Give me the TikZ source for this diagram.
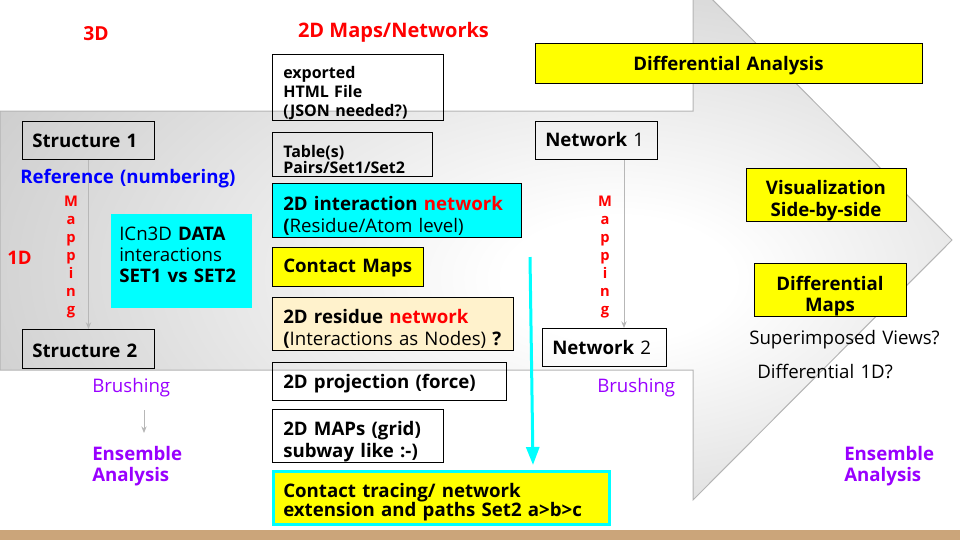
\documentclass[tikz,border=0pt]{standalone}
\usepackage{fontspec}
\setmainfont{Open Sans}
\usetikzlibrary{arrows.meta}
\definecolor{myred}{HTML}{FF0000}
\definecolor{myblue}{HTML}{0000FF}
\definecolor{mypurple}{HTML}{9900FF}
\definecolor{mycyan}{HTML}{00FFFF}
\definecolor{myyellow}{HTML}{FFFF00}
\definecolor{mycream}{HTML}{FFF2CC}
\definecolor{mytan}{HTML}{CBA57A}
\definecolor{arrline}{HTML}{B4B4B4}
\definecolor{garrow}{HTML}{B7B7B7}
\pgfdeclareradialshading{arrshade}{\pgfpoint{8bp}{-4bp}}{color(0bp)=(white); color(6bp)=(white); color(46bp)=(gray!55); color(100bp)=(gray!55)}
\begin{document}
\begin{tikzpicture}[x=0.75pt,y=-0.75pt,
  box/.style={draw=black,line width=0.75pt,inner sep=0pt,anchor=north west},
  tx/.style={inner sep=0pt,anchor=base west,align=left,text width=#1},
  tx/.default=250pt,
  ctx/.style={inner sep=0pt,anchor=base,align=center,text width=#1},
  f14/.style={font=\fontsize{14}{16.5}\selectfont},
  f12/.style={font=\fontsize{12}{14.5}\selectfont},
  f11/.style={font=\fontsize{11}{13.5}\selectfont\bfseries},
  gline/.style={draw=garrow,line width=0.75pt,-{Stealth[length=5pt,width=4pt]}},
]
\useasboundingbox (0,0) rectangle (960,540);
\clip (0,0) rectangle (960,540);
% big arrow
\shade[shading=arrshade,draw=arrline,line width=0.75pt]
  (0,111) -- (693,111) -- (693,-20) -- (952,240) -- (693,500) -- (693,370) -- (0,370) -- cycle;
% bottom bar
\fill[mytan] (0,530) rectangle (960,540);

% titles
\node[inner sep=0pt,anchor=base,font=\fontsize{14.5}{16}\selectfont,text=myred] (t3d) at (96,40.7) {\textbf{3D}};
\node[inner sep=0pt,anchor=base,font=\fontsize{15}{16}\selectfont,text=myred] (t2d) at (393.5,37.7) {\textbf{2D Maps/Networks}};

% middle column boxes
\node[box,minimum width=128.25pt,minimum height=49.5pt] (exp) at (272,54) {};
\node[tx,f12] (expt) at (283,78.3) {\textbf{exported}\\\textbf{HTML File}\\\textbf{(JSON needed?)}};
\node[box,minimum width=120pt,minimum height=33pt] (tbl) at (272,132) {};
\node[tx,font=\fontsize{12}{12.5}\selectfont] (tblt) at (283,157.3) {\textbf{Table(s)}\\\textbf{Pairs/Set1/Set2}};
\node[box,fill=mycyan,minimum width=186.75pt,minimum height=40.5pt] (inter) at (272,183) {};
\node[tx,f14] (intert) at (283,210) {\textbf{2D interaction \textcolor{myred}{network}}\\\textbf{(}Residue/Atom level)};
\node[box,fill=myyellow,minimum width=113.25pt,minimum height=29.25pt] (cmap) at (272,247) {};
\node[tx,f14] (cmapt) at (283,272.3) {\textbf{Contact Maps}};
\node[box,fill=mycream,minimum width=180.75pt,minimum height=39.75pt] (resid) at (272,297) {};
\node[tx,f14] (residt) at (283,323) {\textbf{2D residue \textcolor{myred}{network}}\\\textbf{(}Interactions as Nodes) \textbf{?}};
\node[box,minimum width=175.5pt,minimum height=28.5pt] (proj) at (272,362) {};
\node[tx,f14] (projt) at (283,388.3) {\textbf{2D projection (force)}};
\node[box,minimum width=128.25pt,minimum height=39.75pt] (maps) at (272,409) {};
\node[tx,f14] (mapst) at (283,435) {\textbf{2D MAPs (grid)}\\\textbf{subway like :-)}};
\node[box,draw=mycyan,line width=2.5pt,fill=myyellow,minimum width=252pt,minimum height=39.75pt] (trace) at (272,470) {};
\node[tx,font=\fontsize{14}{14.75}\selectfont] (tracet) at (283,497) {\textbf{Contact tracing/ network}\\\textbf{extension and paths Set2 a>b>c}};

% cyan arrow
\coordinate (cs) at (530,257);
\coordinate (ce) at (533,465);
\draw[mycyan,line width=2.25pt,-{Triangle[length=13.5pt,width=9.75pt]}] (cs) -- (ce);

% left column
\node[box,minimum width=99pt,minimum height=28.5pt] (s1) at (22,121) {};
\node[tx,f14] (s1t) at (32,147) {\textbf{Structure 1}};
\node[box,minimum width=99pt,minimum height=29.25pt] (s2) at (22,329) {};
\node[tx,f14] (s2t) at (32,357) {\textbf{Structure 2}};
\draw[gline] (s1.south) -- (s2.north);
\node[tx,f14,text=myblue] (ref) at (20,183) {\textbf{Reference (numbering)}};
\node[ctx=20pt,f11,text=myred] (map1) at (71,206.8) {M\\a\\p\\p\\i\\n\\g};
\node[inner sep=0pt,anchor=base,f14,text=myred] (t1d) at (19.5,264.5) {\textbf{1D}};
\node[box,draw=none,fill=mycyan,minimum width=105.75pt,minimum height=70.5pt] (icn) at (110,213) {};
\node[tx,font=\fontsize{14}{16.1}\selectfont] (icnt) at (119,240) {ICn3D \textbf{DATA}\\interactions\\\textbf{SET1 vs SET2}};
\node[tx,f14,text=mypurple] (br1) at (92,392) {Brushing};
\coordinate (b1s) at (144,410);
\coordinate (b1e) at (144,433);
\draw[gline] (b1s) -- (b1e);
\node[tx,font=\fontsize{14}{16.25}\selectfont,text=mypurple] (ens1) at (92,460) {\textbf{Ensemble}\\\textbf{Analysis}};

% right column
\node[box,fill=myyellow,minimum width=290.25pt,minimum height=30pt] (diffA) at (535,43) {};
\node[ctx=290pt,f14] (diffAt) at (728.5,70.7) {\textbf{Differential Analysis}};
\node[box,minimum width=91.5pt,minimum height=28.5pt] (n1) at (535,121) {};
\node[tx,f14] (n1t) at (545,146.7) {\textbf{Network} 1};
\node[box,minimum width=93pt,minimum height=28.5pt] (n2) at (542,328) {};
\node[tx,f14] (n2t) at (552,354) {\textbf{Network} 2};
\coordinate (m2) at (624,200);
\draw[gline] (n1.south -| m2) -- (n2.north -| m2);
\node[ctx=20pt,f11,text=myred] (map2) at (605,206.8) {M\\a\\p\\p\\i\\n\\g};
\node[tx,f14,text=mypurple] (br2) at (597,392) {Brushing};
\node[box,fill=myyellow,minimum width=120pt,minimum height=39.75pt] (vis) at (746,168) {};
\node[ctx=120pt,f14] (vist) at (826,194.3) {\textbf{Visualization}\\\textbf{Side-by-side}};
\node[box,fill=myyellow,minimum width=114pt,minimum height=39.75pt] (dmaps) at (754,263) {};
\node[ctx=114pt,font=\fontsize{14}{16.25}\selectfont] (dmapst) at (830,290) {\textbf{Differential}\\\textbf{Maps}};
\node[tx,f14] (sup) at (749,344) {Superimposed Views?};
\node[tx,f14] (d1d) at (757,378.3) {Differential 1D?};
\node[tx,font=\fontsize{14}{16.25}\selectfont,text=mypurple] (ens2) at (844,460) {\textbf{Ensemble}\\\textbf{Analysis}};
\end{tikzpicture}
\end{document}
